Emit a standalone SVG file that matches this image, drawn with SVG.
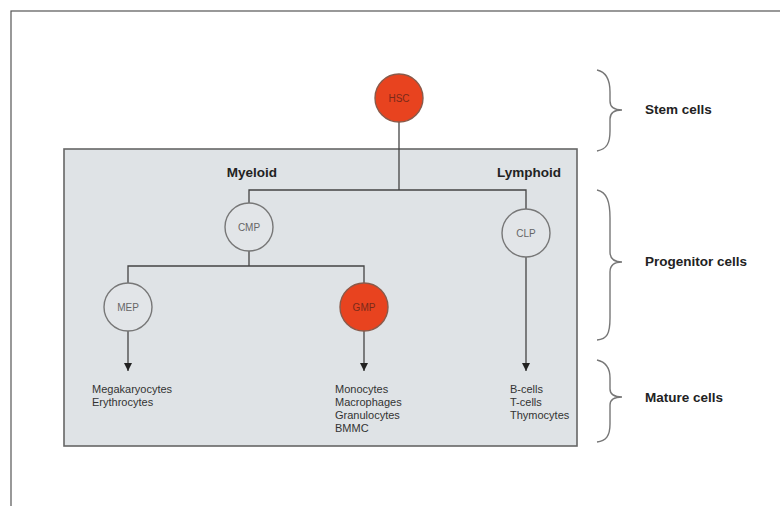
<svg xmlns="http://www.w3.org/2000/svg" width="780" height="506" viewBox="0 0 780 506">
<defs>
<style>
.frame{fill:#ffffff;stroke:#555;stroke-width:1.2}
.panel{fill:#dfe3e6;stroke:#666;stroke-width:1.6}
.node{fill:#e2e5e8;stroke:#777;stroke-width:1.4}
.red{fill:#e8431f;stroke:#8a5a4a;stroke-width:1.4}
.nl{font-family:"Liberation Sans",Arial,sans-serif;font-size:10px;fill:#666;text-anchor:middle}
.nlr{font-family:"Liberation Sans",Arial,sans-serif;font-size:10px;fill:#7a2a1a;text-anchor:middle}
.hd{font-family:"Liberation Sans",Arial,sans-serif;font-size:13.5px;font-weight:bold;fill:#222}
.sm{font-family:"Liberation Sans",Arial,sans-serif;font-size:11px;fill:#333}
.ln{fill:none;stroke:#444;stroke-width:1.3}
.br{fill:none;stroke:#777;stroke-width:1.4}
</style>
<marker id="ah" viewBox="0 0 10 10" refX="10" refY="5" markerWidth="8" markerHeight="8" markerUnits="userSpaceOnUse" orient="auto">
<path d="M0,0 L10,5 L0,10 z" fill="#222"/>
</marker>
</defs>
<rect x="11" y="11" width="800" height="520" class="frame"/>
<rect id="panel" x="64" y="149" width="513" height="297" class="panel"/>
<g id="connectors">
<line x1="399" y1="122" x2="399" y2="190" class="ln"/>
<polyline points="249,203 249,190 526,190 526,209" class="ln"/>
<line x1="249" y1="251" x2="249" y2="266" class="ln"/>
<polyline points="128,283 128,266 364,266 364,283" class="ln"/>
<line x1="128" y1="331" x2="128" y2="371" class="ln" marker-end="url(#ah)"/>
<line x1="364" y1="331" x2="364" y2="371" class="ln" marker-end="url(#ah)"/>
<line x1="526" y1="257" x2="526" y2="371" class="ln" marker-end="url(#ah)"/>
</g>
<g id="HSC"><circle cx="399" cy="98" r="24" class="red"/><text x="399" y="102" class="nlr">HSC</text></g>
<g id="CMP"><circle cx="249" cy="227" r="24" class="node"/><text x="249" y="231" class="nl">CMP</text></g>
<g id="CLP"><circle cx="526" cy="233" r="24" class="node"/><text x="526" y="237" class="nl">CLP</text></g>
<g id="MEP"><circle cx="128" cy="307" r="24" class="node"/><text x="128" y="311" class="nl">MEP</text></g>
<g id="GMP"><circle cx="364" cy="307" r="24" class="red"/><text x="364" y="311" class="nlr">GMP</text></g>
<g id="labels">
<text x="252" y="177" class="hd" text-anchor="middle">Myeloid</text>
<text x="529" y="177" class="hd" text-anchor="middle">Lymphoid</text>
</g>
<g id="mature-mep"><text class="sm"><tspan x="92" y="393">Megakaryocytes</tspan><tspan x="92" y="406">Erythrocytes</tspan></text></g>
<g id="mature-gmp"><text class="sm"><tspan x="335" y="393">Monocytes</tspan><tspan x="335" y="406">Macrophages</tspan><tspan x="335" y="419">Granulocytes</tspan><tspan x="335" y="432">BMMC</tspan></text></g>
<g id="mature-clp"><text class="sm"><tspan x="510" y="393">B-cells</tspan><tspan x="510" y="406">T-cells</tspan><tspan x="510" y="419">Thymocytes</tspan></text></g>
<g id="stem">
<path d="M597,70 C607,72 610,80 610,92 L610,101 C610,107 614,110 622,110 C614,110 610,113 610,119 L610,131 C610,143 607,149 597,151" class="br"/>
<text x="645" y="114" class="hd">Stem cells</text>
</g>
<g id="progenitor">
<path d="M597,190 C607,192 610,202 610,218 L610,252 C610,258 614,262 622,262 C614,262 610,266 610,272 L610,318 C610,334 607,339 597,340" class="br"/>
<text x="645" y="266" class="hd">Progenitor cells</text>
</g>
<g id="mature">
<path d="M597,360 C606,362 610,368 610,378 L610,389 C610,394 614,397 622,397 C614,397 610,400 610,405 L610,424 C610,436 606,441 597,442" class="br"/>
<text x="645" y="402" class="hd">Mature cells</text>
</g>
</svg>
